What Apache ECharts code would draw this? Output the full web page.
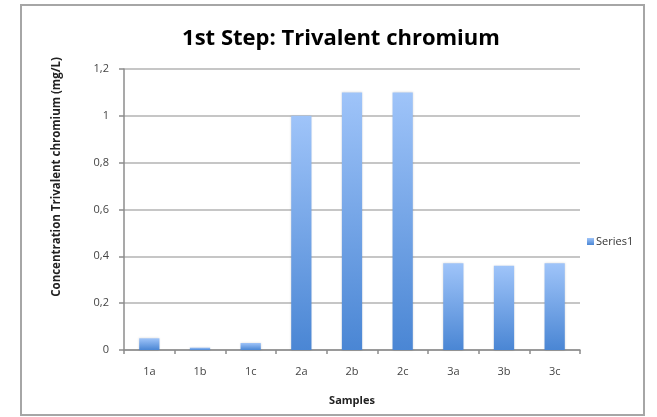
<!DOCTYPE html>
<html>
<head>
<meta charset="utf-8">
<script src="https://cdn.jsdelivr.net/npm/echarts@6/dist/echarts.min.js"></script>
<style>
  html, body { margin: 0; padding: 0; background: #fff; }
  #chart { width: 657px; height: 417px; }
</style>
</head>
<body>
<div id="chart"></div>
<script>
// Trivalent chromium concentration per sample (mg/L)
const samples = ['1a', '1b', '1c', '2a', '2b', '2c', '3a', '3b', '3c'];
const concentration = [0.05, 0.01, 0.03, 1.0, 1.1, 1.1, 0.37, 0.36, 0.37];
const seriesName = 'Series1';
const yTicks = [0, 0.2, 0.4, 0.6, 0.8, 1, 1.2];

const chart = echarts.init(document.getElementById('chart'));
const font = '"Open Sans", "Liberation Sans", sans-serif';

const barFill = new echarts.graphic.LinearGradient(0, 0, 0, 1, [
  { offset: 0, color: '#9fc4f9' },
  { offset: 1, color: '#4a86d4' }
]);

chart.setOption({
  animation: false,
  backgroundColor: '#ffffff',
  title: {
    text: '1st Step: Trivalent chromium',
    left: 336,
    top: 23,
    textAlign: 'center',
    textStyle: { fontFamily: font, fontSize: 22, fontWeight: 'bold', color: '#000' }
  },
  legend: {
    data: [seriesName],
    orient: 'vertical',
    left: 582,
    top: 231,
    itemWidth: 7,
    itemHeight: 7,
    itemGap: 4,
    icon: 'rect',
    textStyle: { fontFamily: font, fontSize: 11, color: '#333', padding: [0, 0, 0, -3] }
  },
  grid: { left: 124, right: 77, top: 69, bottom: 67 },
  xAxis: {
    type: 'category',
    data: samples,
    name: 'Samples',
    nameLocation: 'middle',
    nameGap: 45,
    nameTextStyle: { fontFamily: font, fontSize: 11, fontWeight: 'bold', color: '#222' },
    axisLine: { lineStyle: { color: '#8c8c8c', width: 1.5 } },
    axisTick: { show: true, length: 4, lineStyle: { color: '#8c8c8c', width: 1.5 } },
    axisLabel: { fontFamily: font, fontSize: 11, color: '#444', margin: 16 }
  },
  yAxis: {
    type: 'value',
    min: yTicks[0],
    max: yTicks[yTicks.length - 1],
    interval: 0.2,
    axisLine: { show: true, lineStyle: { color: '#8c8c8c', width: 1.5 } },
    axisTick: { show: true, length: 5, lineStyle: { color: '#8c8c8c', width: 1.5 } },
    splitLine: { lineStyle: { color: '#b3b3b3', width: 1.5 } },
    axisLabel: {
      fontFamily: font, fontSize: 11, color: '#444', margin: 15,
      formatter: v => String(Math.round(v * 10) / 10).replace('.', ',')
    }
  },
  series: [{
    name: seriesName,
    type: 'bar',
    data: concentration,
    barWidth: '40%',
    itemStyle: { color: barFill, shadowColor: 'rgba(0,0,0,0.15)', shadowBlur: 2 }
  }],
  graphic: [
    {
      type: 'rect',
      shape: { x: 21, y: 5, width: 623, height: 410 },
      style: { fill: 'none', stroke: '#a6a6a6', lineWidth: 2 },
      z: -1
    },
    {
      type: 'text',
      x: 57,
      y: 177,
      rotation: Math.PI / 2,
      style: {
        text: 'Concentration Trivalent chromium (mg/L)',
        font: 'bold 11.5px ' + font,
        fill: '#222',
        align: 'center',
        verticalAlign: 'middle'
      }
    }
  ]
});
</script>
</body>
</html>
